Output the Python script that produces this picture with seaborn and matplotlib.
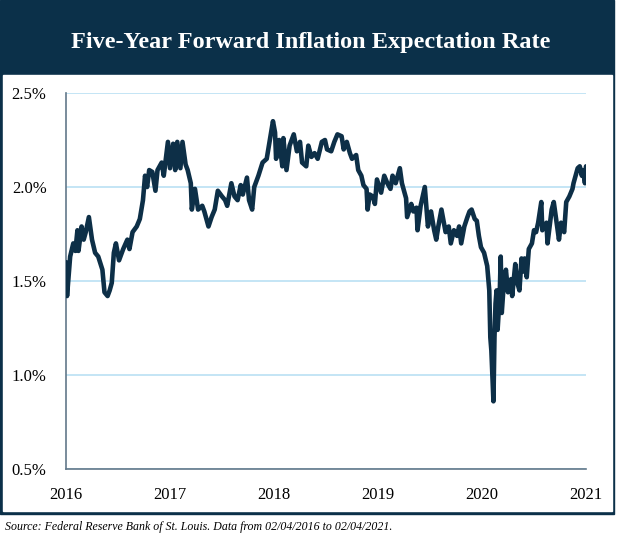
import numpy as np
import pandas as pd
import matplotlib.pyplot as plt
import matplotlib.patches as mpatches
import seaborn as sns

# DATA (dates as decimal years)
years = [
    2016.00, 2016.01, 2016.04, 2016.07, 2016.09, 2016.11, 2016.12, 2016.15, 2016.17, 2016.19,
    2016.22, 2016.25, 2016.28, 2016.31, 2016.35, 2016.37, 2016.40, 2016.42, 2016.44, 2016.46,
    2016.48, 2016.51, 2016.55, 2016.59, 2016.61, 2016.64, 2016.68, 2016.71, 2016.74, 2016.76,
    2016.78, 2016.80, 2016.83, 2016.86, 2016.88, 2016.92, 2016.94, 2016.98, 2017.00, 2017.03,
    2017.05, 2017.07, 2017.10, 2017.12, 2017.15, 2017.17, 2017.20, 2017.21, 2017.24, 2017.27,
    2017.31, 2017.33, 2017.35, 2017.37, 2017.40, 2017.43, 2017.46, 2017.50, 2017.53, 2017.55,
    2017.59, 2017.62, 2017.65, 2017.68, 2017.70, 2017.74, 2017.76, 2017.79, 2017.81, 2017.85,
    2017.89, 2017.93, 2017.96, 2017.99, 2018.01, 2018.02, 2018.05, 2018.08, 2018.09, 2018.12,
    2018.15, 2018.19, 2018.22, 2018.25, 2018.27, 2018.31, 2018.33, 2018.36, 2018.39, 2018.42,
    2018.46, 2018.49, 2018.51, 2018.55, 2018.58, 2018.61, 2018.65, 2018.67, 2018.70, 2018.73,
    2018.75, 2018.79, 2018.81, 2018.84, 2018.86, 2018.89, 2018.90, 2018.92, 2018.95, 2018.97,
    2018.99, 2019.03, 2019.06, 2019.09, 2019.12, 2019.14, 2019.17, 2019.21, 2019.23, 2019.27,
    2019.28, 2019.32, 2019.34, 2019.37, 2019.38, 2019.41, 2019.45, 2019.46, 2019.48, 2019.51,
    2019.54, 2019.56, 2019.58, 2019.61, 2019.63, 2019.65, 2019.68, 2019.70, 2019.73, 2019.76,
    2019.78, 2019.80, 2019.83, 2019.86, 2019.88, 2019.90, 2019.93, 2019.95, 2019.97, 2019.99,
    2020.02, 2020.05, 2020.07, 2020.08, 2020.09, 2020.11, 2020.12, 2020.13, 2020.14, 2020.15,
    2020.17, 2020.18, 2020.19, 2020.21, 2020.23, 2020.25, 2020.28, 2020.29, 2020.32, 2020.34,
    2020.36, 2020.38, 2020.40, 2020.41, 2020.43, 2020.45, 2020.48, 2020.50, 2020.52, 2020.54,
    2020.57, 2020.58, 2020.62, 2020.63, 2020.65, 2020.67, 2020.69, 2020.71, 2020.74, 2020.76,
    2020.79, 2020.81, 2020.84, 2020.87, 2020.88, 2020.90, 2020.92, 2020.94, 2020.96, 2020.97,
    2020.99, 2021.00,
]
rates = [
    1.60, 1.42, 1.63, 1.70, 1.66, 1.77, 1.66, 1.79, 1.72, 1.76,
    1.84, 1.72, 1.65, 1.63, 1.56, 1.44, 1.42, 1.45, 1.49, 1.65,
    1.70, 1.61, 1.67, 1.72, 1.67, 1.76, 1.79, 1.83, 1.93, 2.06,
    2.00, 2.09, 2.08, 1.98, 2.09, 2.13, 2.06, 2.24, 2.10, 2.23,
    2.09, 2.24, 2.10, 2.24, 2.12, 2.09, 2.02, 1.88, 1.99, 1.88,
    1.90, 1.87, 1.83, 1.79, 1.84, 1.88, 1.98, 1.95, 1.93, 1.90,
    2.02, 1.95, 1.93, 2.01, 1.96, 2.05, 1.93, 1.88, 2.00, 2.06,
    2.13, 2.15, 2.25, 2.35, 2.29, 2.15, 2.25, 2.11, 2.26, 2.09,
    2.22, 2.28, 2.19, 2.24, 2.13, 2.11, 2.22, 2.16, 2.18, 2.15,
    2.24, 2.25, 2.20, 2.19, 2.24, 2.28, 2.27, 2.20, 2.24, 2.18,
    2.15, 2.17, 2.09, 2.06, 2.01, 1.99, 1.88, 1.96, 1.95, 1.91,
    2.04, 1.97, 2.06, 2.02, 1.99, 2.06, 2.02, 2.10, 2.02, 1.94,
    1.84, 1.91, 1.87, 1.89, 1.77, 1.90, 2.00, 1.93, 1.79, 1.87,
    1.77, 1.72, 1.79, 1.88, 1.82, 1.76, 1.79, 1.70, 1.77, 1.74,
    1.79, 1.70, 1.79, 1.84, 1.87, 1.88, 1.83, 1.82, 1.74, 1.68,
    1.65, 1.58, 1.45, 1.20, 1.13, 0.86, 1.20, 1.38, 1.45, 1.24,
    1.42, 1.63, 1.33, 1.49, 1.56, 1.44, 1.51, 1.42, 1.59, 1.49,
    1.45, 1.62, 1.55, 1.62, 1.52, 1.67, 1.70, 1.77, 1.76, 1.81,
    1.92, 1.77, 1.81, 1.70, 1.79, 1.88, 1.92, 1.84, 1.72, 1.81,
    1.76, 1.92, 1.95, 1.99, 2.02, 2.06, 2.10, 2.11, 2.06, 2.09,
    2.02, 2.11,
]
year_ticks = [2016, 2017, 2018, 2019, 2020, 2021]
rate_ticks = [0.5, 1.0, 1.5, 2.0, 2.5]

title = "Five-Year Forward Inflation Expectation Rate"
source = "Source: Federal Reserve Bank of St. Louis. Data from 02/04/2016 to 02/04/2021."

NAVY = "#0b3049"
LINE = "#0d2f47"
GRID = "#bfe3f5"
SPINE = "#62788a"

df = pd.DataFrame({"year": years, "rate": rates})

sns.set_style("white")
plt.rcParams["font.family"] = ["Liberation Serif", "DejaVu Serif"]

fig = plt.figure(figsize=(6.17, 5.42), dpi=100)

# navy frame + title band, white plot panel (behind the axes)
fig.patches.append(mpatches.Rectangle((0, 1 - 514 / 542), 614 / 617, 514 / 542,
                                      transform=fig.transFigure, color=NAVY, zorder=-2))
fig.patches.append(mpatches.Rectangle((3 / 617, 1 - 511 / 542), 609 / 617, 436 / 542,
                                      transform=fig.transFigure, color="white", zorder=-1))

fig.text(0.503, 1 - 42 / 542, title, color="white", fontsize=17.5, fontweight="bold",
         ha="center", va="center")
fig.text(5 / 617, 1 - 527 / 542, source, fontsize=8.6, style="italic",
         ha="left", va="center", color="black")

ax = fig.add_axes([66 / 617, 1 - 469 / 542, 520 / 617, 376 / 542])
ax.set_zorder(2)
ax.patch.set_alpha(0)
sns.lineplot(data=df, x="year", y="rate", ax=ax, color=LINE, linewidth=3.3,
             solid_joinstyle="round", zorder=3)

ax.set_xlim(2016, 2021)
ax.set_ylim(0.5, 2.5)
ax.set_xticks(year_ticks)
ax.set_xticklabels([str(y) for y in year_ticks])
ax.set_yticks(rate_ticks)
ax.set_yticklabels([f"{r:.1f}%" for r in rate_ticks])
ax.set_xlabel("")
ax.set_ylabel("")

ax.yaxis.grid(True, color=GRID, linewidth=1.3)
ax.set_axisbelow(True)
for side in ["top", "right"]:
    ax.spines[side].set_visible(False)
for side in ["left", "bottom"]:
    ax.spines[side].set_color(SPINE)
    ax.spines[side].set_linewidth(1.2)
ax.tick_params(axis="both", direction="out", length=5, width=1.2, color=SPINE,
               labelsize=12, labelcolor="black")
ax.tick_params(axis="y", pad=9)
ax.tick_params(axis="x", pad=8)

plt.savefig("out.png", dpi=100)
